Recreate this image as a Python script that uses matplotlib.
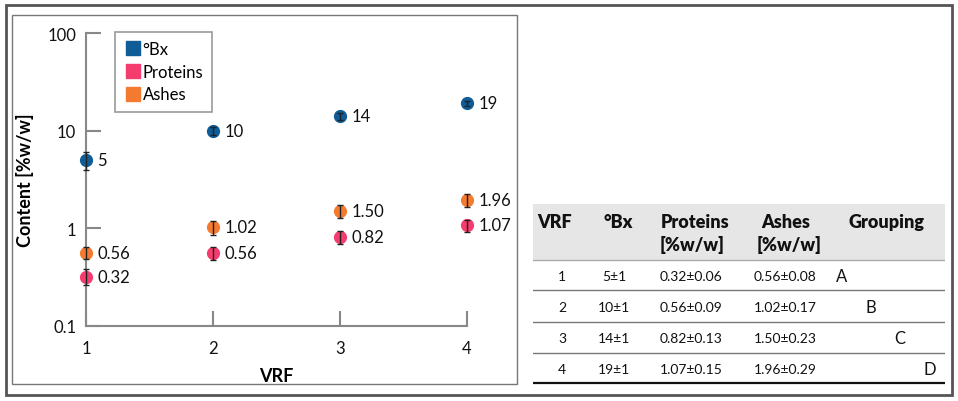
import numpy as np
import matplotlib
matplotlib.use("Agg")
import matplotlib.pyplot as plt
from matplotlib.patches import Rectangle
from matplotlib.lines import Line2D

plt.rcParams['font.family'] = ['Lato', 'DejaVu Sans']

vrf = [1, 2, 3, 4]
brix = [5, 10, 14, 19]
brix_err = [1, 1, 1, 1]
proteins = [0.32, 0.56, 0.82, 1.07]
proteins_err = [0.06, 0.09, 0.13, 0.15]
ashes = [0.56, 1.02, 1.50, 1.96]
ashes_err = [0.08, 0.17, 0.23, 0.29]
grouping = ["A", "B", "C", "D"]

series = [
    ("°Bx", brix, brix_err, "#0f5c96", "{:.0f}"),
    ("Proteins", proteins, proteins_err, "#f53c6e", "{:.2f}"),
    ("Ashes", ashes, ashes_err, "#f47a30", "{:.2f}"),
]

W, H = 958, 402
fig = plt.figure(figsize=(W / 100, H / 100), dpi=100)

def px(x0, y0, x1, y1):
    return [x0 / W, 1 - y1 / H, (x1 - x0) / W, (y1 - y0) / H]

# outer frame and chart frame
fig.patches.append(Rectangle((6 / W, 1 - 396 / H), 946 / W, 390 / H, transform=fig.transFigure,
                             fill=False, edgecolor="#555555", lw=2))
fig.patches.append(Rectangle((12 / W, 1 - 385 / H), 505 / W, 369 / H, transform=fig.transFigure,
                             fill=False, edgecolor="#777777", lw=1))

ax = fig.add_axes(px(86, 34, 467, 327))
ax.set_yscale("log")
for name, vals, errs, col, fmt in series:
    ax.plot(vrf, vals, "o", color=col, ms=8.5, zorder=3, label=name, clip_on=False)
    ax.errorbar(vrf, vals, yerr=errs, fmt="none", ecolor="#222222", elinewidth=1,
                capsize=2, capthick=1, zorder=4, clip_on=False)
    for x, v in zip(vrf, vals):
        ax.annotate(fmt.format(v), (x, v), xytext=(8, 0), textcoords="offset points",
                    va="center", ha="left", fontsize=12, color="#111111")

ax.set_xlim(1, 4)
ax.set_ylim(0.1, 100)
ax.set_xticks(vrf)
ax.set_xticklabels([str(v) for v in vrf])
ax.set_yticks([0.1, 1, 10, 100])
ax.set_yticklabels(["0.1", "1", "10", "100"])
ax.minorticks_off()
for s in ["top", "right"]:
    ax.spines[s].set_visible(False)
for s in ["left", "bottom"]:
    ax.spines[s].set_color("#888888")
    ax.spines[s].set_linewidth(1.5)
ax.tick_params(direction="in", length=11, width=1.5, color="#888888", labelsize=12,
               labelcolor="#111111", pad=7)
ax.tick_params(axis="x", pad=10)
ax.set_xlabel("VRF", fontsize=13, fontweight="bold", labelpad=8)
ax.set_ylabel("Content [%w/w]", fontsize=13, fontweight="bold", labelpad=10)

handles = [Line2D([], [], marker="s", ls="none", color=c, ms=10) for _, _, _, c, _ in series]
leg = ax.legend(handles, [s[0] for s in series], loc="upper left",
                bbox_to_anchor=(115 / W, 1 - 33 / H), bbox_transform=fig.transFigure,
                borderaxespad=0, fontsize=12, handletextpad=0.1, handlelength=1.0,
                labelspacing=0.4, borderpad=0.55, fancybox=False, framealpha=1)
leg.get_frame().set_edgecolor("#999999")
leg.get_frame().set_linewidth(1.2)

# table
tx = fig.add_axes(px(533, 200, 945, 392))
tx.set_xlim(533, 945)
tx.set_ylim(392, 200)
tx.axis("off")
tx.add_patch(Rectangle((533, 205), 412, 56, facecolor="#e6e6e6", edgecolor="none"))
tx.plot([533, 945], [261, 261], color="#aaaaaa", lw=1)

col_x = [555, 618, 695, 786, 887]
heads = ["VRF", "°Bx", "Proteins", "Ashes", "Grouping"]
for x, h in zip(col_x, heads):
    tx.text(x, 223, h, ha="center", va="center", fontsize=13, fontweight="heavy", color="#111111")
tx.text(692, 245, "[%w/w]", ha="center", va="center", fontsize=13, fontweight="heavy", color="#111111")
tx.text(789, 245, "[%w/w]", ha="center", va="center", fontsize=13, fontweight="heavy", color="#111111")

row_y = [277, 308, 339, 370]
group_x = [842, 871, 900, 930]
body = dict(ha="center", va="center", fontsize=10, color="#111111")
for i in range(len(vrf)):
    y = row_y[i]
    tx.text(562, y, str(vrf[i]), **body)
    tx.text(614, y, "{:.0f}±{:.0f}".format(brix[i], brix_err[i]), **body)
    tx.text(691, y, "{:.2f}±{:.2f}".format(proteins[i], proteins_err[i]), **body)
    tx.text(785, y, "{:.2f}±{:.2f}".format(ashes[i], ashes_err[i]), **body)
    tx.text(group_x[i], y, grouping[i], ha="center", va="center", fontsize=12, color="#111111")
for y in [291, 323, 354]:
    tx.plot([533, 945], [y, y], color="#777777", lw=1)
tx.plot([533, 945], [384, 384], color="#111111", lw=1.6)

fig.savefig("out.png", dpi=100)
